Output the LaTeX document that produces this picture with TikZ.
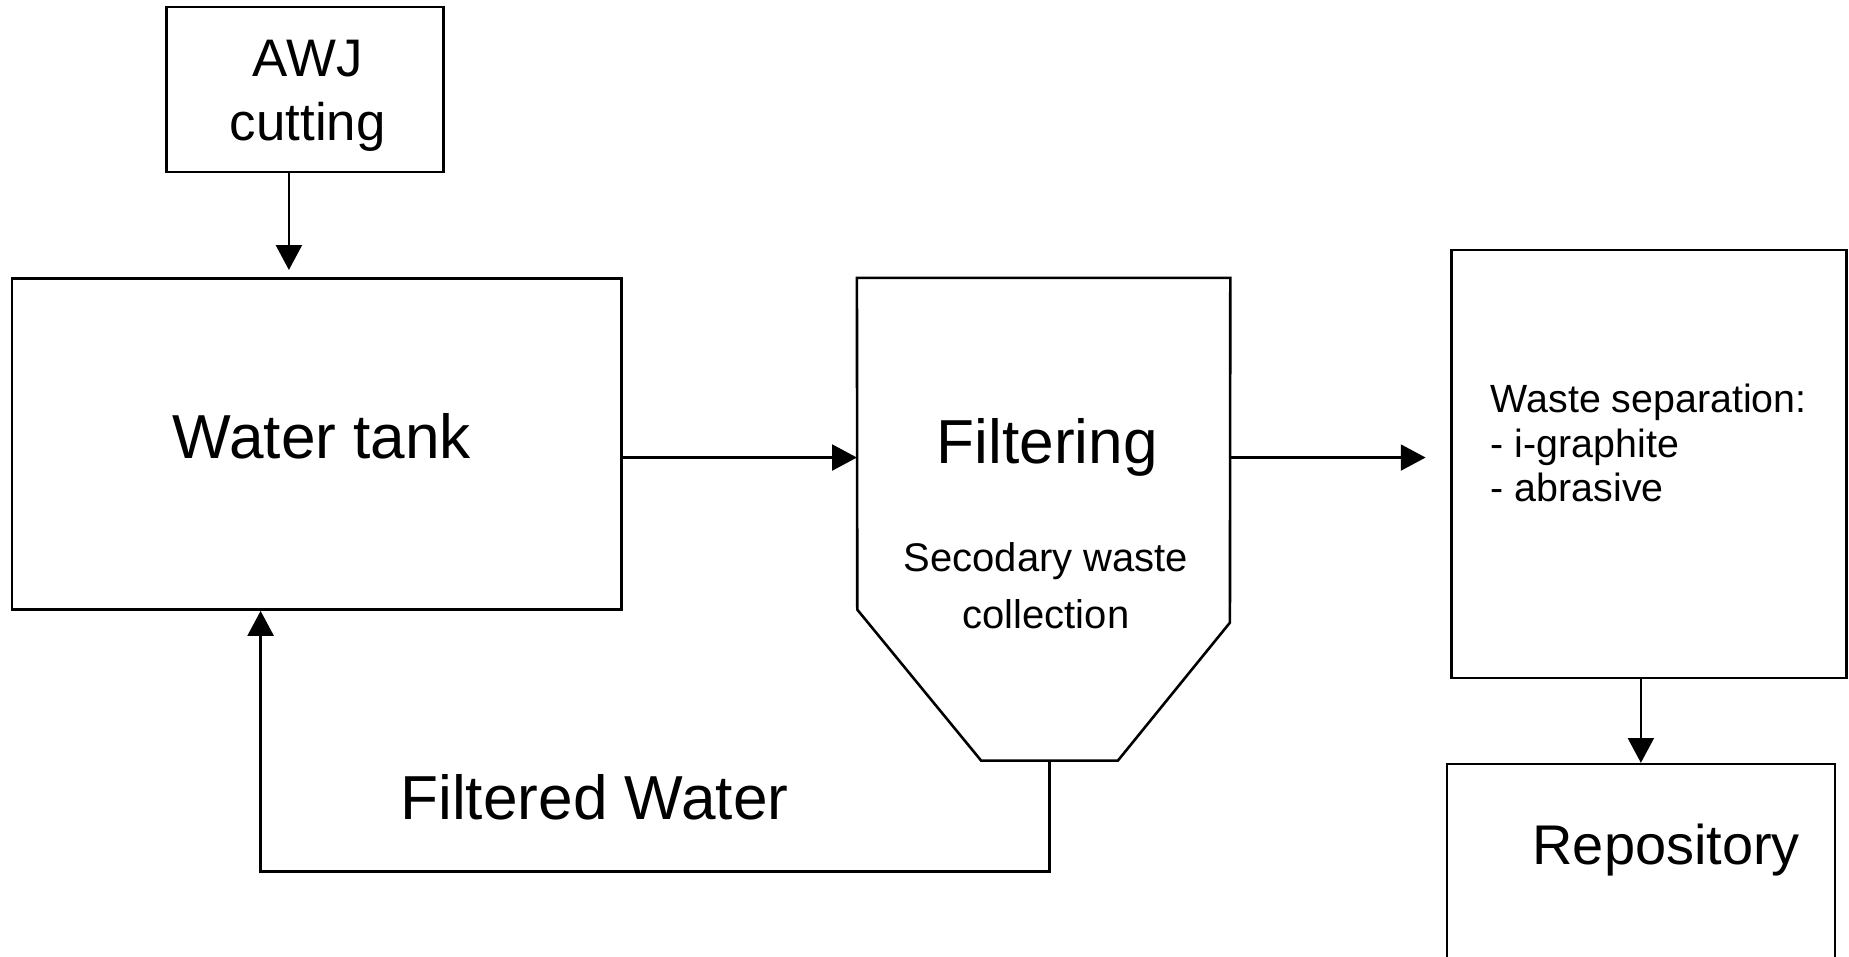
\documentclass[tikz,border=0pt]{standalone}
\usepackage{fontspec}
\setmainfont{Liberation Sans}
\usetikzlibrary{arrows.meta}
\begin{document}
\begin{tikzpicture}[x=0.02cm,y=-0.02cm,
  box/.style={draw, line width=1.25pt, rectangle, inner sep=0pt},
  conn/.style={line width=1.25pt, -{Triangle[length=12pt,width=12.5pt]}},
  bigtxt/.style={font=\fontsize{30}{36}\selectfont},
  midtxt/.style={font=\fontsize{19.3}{27}\selectfont},
  smalltxt/.style={font=\fontsize{19}{22}\selectfont},
]
\useasboundingbox (0,0) rectangle (1568,811);
\clip (0,0) rectangle (1568,811);
\fill[white] (0,0) rectangle (1568,811);

% boxes
\node[box, minimum width=4.70cm, minimum height=2.80cm] (awj) at (258.5,76) {};
\node[box, minimum width=10.34cm, minimum height=5.62cm] (tank) at (268.5,376.5) {};
\node[inner sep=0pt, minimum width=6.32cm, minimum height=5.84cm] (filt) at (885,382) {};
\node[box, minimum width=6.70cm, minimum height=7.26cm] (sep) at (1398.5,393.5) {};
\node[box, minimum width=6.58cm, minimum height=4.48cm] (repo) at (1391.5,760) {};

% filtering hopper shape
\coordinate (fbl) at (727,517);
\coordinate (fbr) at (1043,528);
\coordinate (fb1) at (832,645);
\coordinate (fb2) at (948,645);
\coordinate (fbot) at (890,645);
\draw[line width=1.25pt, line join=miter]
  (fbl) -- (filt.north west) -- (filt.north east) -- (fbr) -- (fb2) -- (fb1) -- cycle;

% labels
\node[align=center, font=\fontsize{25.5}{31}\selectfont] (awjlbl) at (261,81) {AWJ\\cutting};
\node[bigtxt] (tanklbl) at (273,370) {Water tank};
\node[bigtxt, anchor=base] (filtlbl) at (888,393) {Filtering};
\node[midtxt, anchor=base] (sec1) at (887,485) {Secodary waste};
\node[midtxt, anchor=base] (sec2) at (887,533) {collection};
\node[bigtxt, anchor=base] (fwlbl) at (504,695) {Filtered Water};
\node[smalltxt, anchor=base west, inner sep=0pt] (sepl1) at (1264,350) {Waste separation:};
\node[smalltxt, anchor=base west, inner sep=0pt] (sepl2) at (1264,388) {- i-graphite};
\node[smalltxt, anchor=base west, inner sep=0pt] (sepl3) at (1264,425) {- abrasive};
\node[font=\fontsize{27}{32}\selectfont, anchor=base] (repolbl) at (1413,733) {Repository};

% connectors
\coordinate (flowy) at (0,388);
\coordinate (ret) at (221,739);
\draw[conn, shorten >=0.12cm] ([xshift=-0.27cm]awj.south) -- ([xshift=-0.27cm]awj.south |- tank.north);
\draw[conn] (tank.east |- flowy) -- (filt.west |- flowy);
\draw[conn, shorten >=0.42cm] (filt.east |- flowy) -- (sep.west |- flowy);
\draw[conn] (sep.south -| repo.north) -- (repo.north);
\draw[conn] (fbot) |- (ret) -- (tank.south -| ret);
\end{tikzpicture}
\end{document}
